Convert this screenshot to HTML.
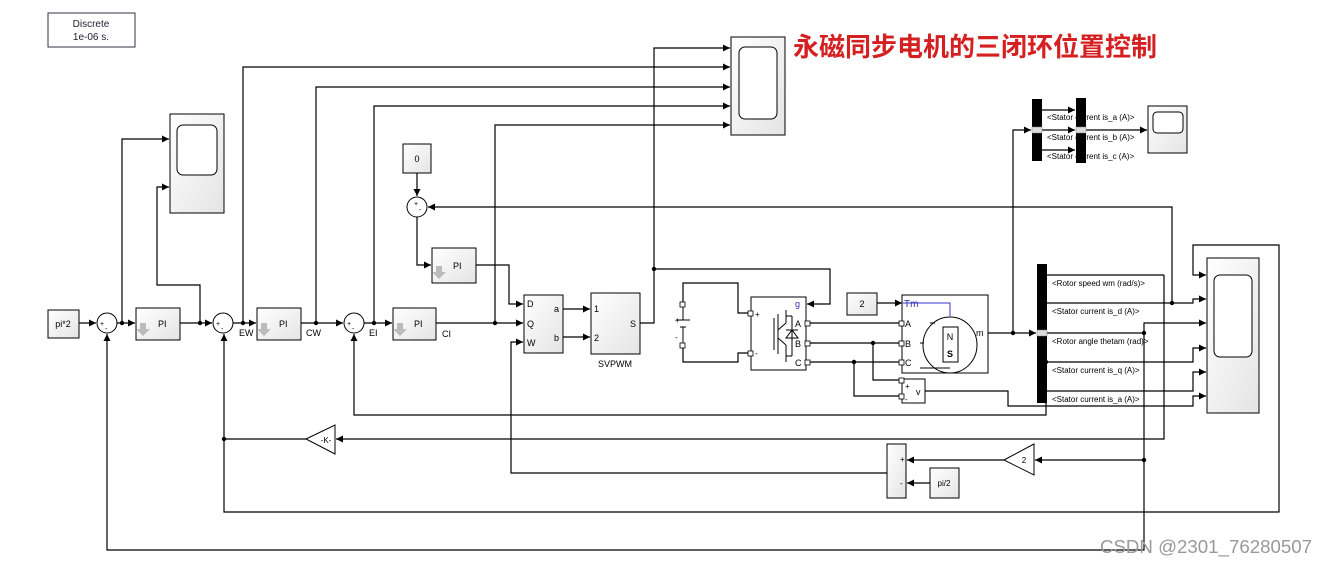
<!DOCTYPE html>
<html><head><meta charset="utf-8"><style>
html,body{margin:0;padding:0;background:#fff;}
svg{display:block;}
text{font-family:"Liberation Sans",sans-serif;}
</style></head><body>
<svg width="1328" height="565" viewBox="0 0 1328 565" xmlns="http://www.w3.org/2000/svg">
<defs>
<marker id="a" markerWidth="8" markerHeight="8" refX="7" refY="4" orient="auto" markerUnits="userSpaceOnUse"><path d="M0,0.5 L7,4 L0,7.5 z" fill="#000"/></marker>
<linearGradient id="g" x1="0" y1="0" x2="1" y2="1"><stop offset="0" stop-color="#fff"/><stop offset="1" stop-color="#e4e4e4"/></linearGradient>
</defs>
<g fill="none" stroke="#000" stroke-width="1.2">
<line x1="79" y1="323" x2="96" y2="323" marker-end="url(#a)"/>
<line x1="117" y1="323" x2="135" y2="323" marker-end="url(#a)"/>
<line x1="180" y1="323" x2="212" y2="323" marker-end="url(#a)"/>
<line x1="233" y1="323" x2="256" y2="323" marker-end="url(#a)"/>
<line x1="301" y1="323" x2="343" y2="323" marker-end="url(#a)"/>
<line x1="364" y1="323" x2="392" y2="323" marker-end="url(#a)"/>
<line x1="436" y1="323" x2="523" y2="323" marker-end="url(#a)"/>
<line x1="563" y1="309" x2="590" y2="309" marker-end="url(#a)"/>
<line x1="563" y1="337" x2="590" y2="337" marker-end="url(#a)"/>
<polyline points="640,323 654,323 654,48 730,48" marker-end="url(#a)"/>
<polyline points="654,269 830,269 830,304 807,304" marker-end="url(#a)"/>
<polyline points="243,323 243,67 730,67" marker-end="url(#a)"/>
<polyline points="316,323 316,87 730,87" marker-end="url(#a)"/>
<polyline points="374,323 374,106 730,106" marker-end="url(#a)"/>
<polyline points="495,323 495,125 730,125" marker-end="url(#a)"/>
<polyline points="122,323 122,139 169,139" marker-end="url(#a)"/>
<polyline points="200,323 200,285 157,285 157,187 169,187" marker-end="url(#a)"/>
<line x1="417" y1="173" x2="417" y2="196" marker-end="url(#a)"/>
<polyline points="417,217 417,265 431,265" marker-end="url(#a)"/>
<polyline points="476,265 509,265 509,304 523,304" marker-end="url(#a)"/>
<polyline points="1172,303 1172,207 428,207" marker-end="url(#a)"/>
<polyline points="887,473 511,473 511,342 523,342" marker-end="url(#a)"/>
<polyline points="1144,333 1144,550 107,550 107,334" marker-end="url(#a)"/>
<polyline points="1164,275 1164,439 336,439" marker-end="url(#a)"/>
<polyline points="306,439 224,439 224,334" marker-end="url(#a)"/>
<polyline points="224,439 224,512 1279,512 1279,245 1193,245 1193,275 1206,275" marker-end="url(#a)"/>
<polyline points="1046,362 1046,415 354,415 354,334" marker-end="url(#a)"/>
<line x1="1144" y1="460" x2="1035" y2="460" marker-end="url(#a)"/>
<line x1="1004" y1="460" x2="907" y2="460" marker-end="url(#a)"/>
<line x1="930" y1="483" x2="907" y2="483" marker-end="url(#a)"/>
<polyline points="683,305 683,283 738,283 738,313 751,313"/>
<polyline points="683,345 683,362 738,362 738,353 751,353"/>
<line x1="806" y1="323" x2="902" y2="323"/>
<line x1="806" y1="343" x2="902" y2="343"/>
<line x1="806" y1="362" x2="902" y2="362"/>
<polyline points="873,343 873,380 902,380"/>
<polyline points="854,362 854,396 902,396"/>
<line x1="877" y1="303" x2="902" y2="303" marker-end="url(#a)"/>
<line x1="988" y1="333" x2="1036" y2="333" marker-end="url(#a)"/>
<polyline points="1013,333 1013,130 1031,130" marker-end="url(#a)"/>
<line x1="1042" y1="110" x2="1075" y2="110" marker-end="url(#a)"/>
<line x1="1042" y1="130" x2="1075" y2="130" marker-end="url(#a)"/>
<line x1="1042" y1="150" x2="1075" y2="150" marker-end="url(#a)"/>
<line x1="1086" y1="130" x2="1147" y2="130" marker-end="url(#a)"/>
<line x1="1047" y1="275" x2="1164" y2="275"/>
<polyline points="1047,303 1193,303 1193,299 1206,299" marker-end="url(#a)"/>
<polyline points="1047,333 1144,333 1144,323 1206,323" marker-end="url(#a)"/>
<polyline points="1047,362 1193,362 1193,348 1206,348" marker-end="url(#a)"/>
<polyline points="1047,391 1193,391 1193,372 1206,372" marker-end="url(#a)"/>
<polyline points="925,391 1008,391 1008,406 1193,406 1193,396 1206,396" marker-end="url(#a)"/>
</g>
<g fill="#000">
<circle cx="122" cy="323" r="2.2"/><circle cx="200" cy="323" r="2.2"/><circle cx="243" cy="323" r="2.2"/>
<circle cx="316" cy="323" r="2.2"/><circle cx="374" cy="323" r="2.2"/><circle cx="495" cy="323" r="2.2"/>
<circle cx="654" cy="269" r="2.2"/><circle cx="873" cy="343" r="2.2"/><circle cx="854" cy="362" r="2.2"/>
<circle cx="1013" cy="333" r="2.2"/><circle cx="1144" cy="333" r="2.2"/><circle cx="1172" cy="303" r="2.2"/>
<circle cx="1046" cy="362" r="2.2"/><circle cx="1144" cy="460" r="2.2"/><circle cx="224" cy="439" r="2.2"/>
</g>
<g stroke="#000" stroke-width="1" fill="url(#g)">
<rect x="48" y="13" width="87" height="34" fill="#fff" stroke="#334"/>
<rect x="48" y="310" width="31" height="28"/>
<rect x="136" y="308" width="44" height="32"/>
<rect x="257" y="308" width="44" height="32"/>
<rect x="393" y="308" width="43" height="32"/>
<rect x="432" y="248" width="44" height="35"/>
<rect x="403" y="144" width="28" height="29"/>
<rect x="524" y="295" width="39" height="58"/>
<rect x="591" y="293" width="49" height="61"/>
<rect x="731" y="37" width="54" height="98"/>
<rect x="170" y="114" width="54" height="99"/>
<rect x="751" y="297" width="55" height="73" fill="#fff"/>
<rect x="847" y="293" width="30" height="22"/>
<rect x="902" y="295" width="86" height="78" fill="#fff"/>
<rect x="902" y="379" width="23" height="24" fill="#fff"/>
<rect x="1207" y="258" width="52" height="155"/>
<rect x="1148" y="106" width="39" height="47"/>
<rect x="887" y="444" width="19" height="54"/>
<rect x="930" y="468" width="29" height="30"/>
</g>
<g fill="#fff" stroke="#000" stroke-width="1">
<circle cx="107" cy="323" r="10"/><circle cx="223" cy="323" r="10"/><circle cx="354" cy="323" r="10"/><circle cx="417" cy="207" r="10"/>
<rect x="739" y="47" width="38" height="72" rx="6"/>
<rect x="177" y="125" width="40" height="50" rx="6"/>
<rect x="1214" y="275" width="38" height="82" rx="6"/>
<rect x="1153" y="112" width="30" height="21" rx="4"/>
<polygon points="306,439 335,425 335,454"/>
<polygon points="1004,460 1034,444 1034,475"/>
<ellipse cx="950" cy="345" rx="27" ry="28"/>
<rect x="943" y="327" width="15" height="35"/>
</g>
<g fill="#000">
<rect x="1037" y="264" width="10" height="139"/>
<rect x="1032" y="99" width="10" height="62"/>
<rect x="1076" y="98" width="10" height="65"/>
</g>
<g fill="#ddd" stroke="#888" stroke-width="0.5">
<rect x="1037" y="330" width="10" height="6"/><rect x="1032" y="127" width="10" height="6"/><rect x="1076" y="127" width="10" height="6"/>
</g>
<g fill="#bbb">
<path d="M140,323 h6 v6 h4 l-7,7 l-7,-7 h4 z"/>
<path d="M261,323 h6 v6 h4 l-7,7 l-7,-7 h4 z"/>
<path d="M397,323 h6 v6 h4 l-7,7 l-7,-7 h4 z"/>
<path d="M436,266 h6 v6 h4 l-7,7 l-7,-7 h4 z"/>
</g>
<g stroke="#000" stroke-width="1" fill="none">
<line x1="676" y1="320" x2="690" y2="320"/><line x1="680" y1="327" x2="686" y2="327"/>
<line x1="683" y1="305" x2="683" y2="320"/><line x1="683" y1="327" x2="683" y2="345"/>
<line x1="774" y1="318" x2="774" y2="350"/><line x1="778" y1="314" x2="778" y2="354"/>
<line x1="778" y1="330" x2="786" y2="323"/><line x1="786" y1="323" x2="786" y2="310"/>
<line x1="778" y1="338" x2="786" y2="345"/><line x1="786" y1="345" x2="786" y2="362"/>
<line x1="786" y1="316" x2="792" y2="316"/><line x1="792" y1="316" x2="792" y2="356"/><line x1="786" y1="356" x2="792" y2="356"/>
<polygon points="786,338 798,338 792,330"/><line x1="786" y1="330" x2="798" y2="330"/>
<polyline points="903,303 950,303 950,316" stroke="#33c"/>
<line x1="930" y1="323" x2="935" y2="323"/><line x1="920" y1="343" x2="924" y2="343"/><line x1="920" y1="368" x2="950" y2="368"/>
</g>
<g fill="#fff" stroke="#000" stroke-width="0.8">
<rect x="680" y="302" width="5" height="5"/><rect x="680" y="343" width="5" height="5"/>
<rect x="748" y="311" width="5" height="5"/><rect x="748" y="351" width="5" height="5"/>
<rect x="805" y="321" width="5" height="5"/><rect x="805" y="341" width="5" height="5"/><rect x="805" y="360" width="5" height="5"/>
<rect x="899" y="321" width="5" height="5"/><rect x="899" y="341" width="5" height="5"/><rect x="899" y="360" width="5" height="5"/>
<rect x="899" y="378" width="5" height="5"/><rect x="899" y="394" width="5" height="5"/>
</g>
<g font-size="9" fill="#000">
<text x="91" y="27" text-anchor="middle" fill="#223" font-size="10">Discrete</text>
<text x="91" y="40" text-anchor="middle" fill="#223" font-size="10">1e-06 s.</text>
<text x="63" y="327" text-anchor="middle">pi*2</text>
<text x="158" y="327">PI</text><text x="279" y="327">PI</text><text x="414" y="327">PI</text><text x="453" y="269">PI</text>
<text x="417" y="162" text-anchor="middle">0</text>
<text x="239" y="336">EW</text><text x="306" y="336">CW</text><text x="369" y="336">EI</text><text x="442" y="337">CI</text>
<text x="100" y="326" font-size="7">+</text><text x="105" y="331" font-size="7">-</text>
<text x="216" y="326" font-size="7">+</text><text x="221" y="331" font-size="7">-</text>
<text x="347" y="326" font-size="7">+</text><text x="352" y="331" font-size="7">-</text>
<text x="414" y="206" font-size="7">+</text><text x="419" y="212" font-size="7">-</text>
<text x="527" y="307">D</text><text x="527" y="327">Q</text><text x="527" y="346">W</text>
<text x="554" y="312">a</text><text x="554" y="341">b</text>
<text x="594" y="312">1</text><text x="594" y="341">2</text><text x="630" y="327">S</text>
<text x="615" y="367" text-anchor="middle">SVPWM</text>
<text x="675" y="323" font-size="8">+</text><text x="675" y="340" font-size="8">-</text>
<text x="755" y="317" font-size="8">+</text><text x="755" y="356" font-size="8">-</text>
<text x="795" y="307" fill="#33a">g</text><text x="795" y="327">A</text><text x="795" y="347">B</text><text x="795" y="366">C</text>
<text x="862" y="307" text-anchor="middle">2</text>
<text x="904" y="307" fill="#33a" font-size="10">Tm</text>
<text x="905" y="327">A</text><text x="905" y="347">B</text><text x="905" y="366">C</text>
<text x="976" y="336">m</text>
<text x="950" y="340" text-anchor="middle">N</text>
<text x="950" y="357" text-anchor="middle" font-weight="bold">S</text>
<text x="905" y="389" font-size="8">+</text><text x="905" y="402" font-size="8">-</text><text x="916" y="395">v</text>
<text x="326" y="443" text-anchor="middle" font-size="8">-K-</text>
<text x="1024" y="463" text-anchor="middle" font-size="8">2</text>
<text x="944" y="486" text-anchor="middle" font-size="8">pi/2</text>
<text x="900" y="462" font-size="8">+</text><text x="900" y="486" font-size="8">-</text>
</g>
<g font-size="8" fill="#000">
<text x="1052" y="286">&lt;Rotor speed wm (rad/s)&gt;</text>
<text x="1052" y="314">&lt;Stator current is_d (A)&gt;</text>
<text x="1052" y="344">&lt;Rotor angle thetam (rad)&gt;</text>
<text x="1052" y="373">&lt;Stator current is_q (A)&gt;</text>
<text x="1052" y="402">&lt;Stator current is_a (A)&gt;</text>
<text x="1047" y="120">&lt;Stator current is_a (A)&gt;</text>
<text x="1047" y="140">&lt;Stator current is_b (A)&gt;</text>
<text x="1047" y="159">&lt;Stator current is_c (A)&gt;</text>
</g>
<text x="793" y="56" font-size="26" font-weight="bold" fill="#d42020" style="font-family:'Liberation Sans','Noto Sans CJK SC',sans-serif">永磁同步电机的三闭环位置控制</text>
<text x="1100" y="553" font-size="18" fill="#999" textLength="212" lengthAdjust="spacingAndGlyphs" style="font-family:'Liberation Sans','Noto Sans CJK SC',sans-serif">CSDN @2301_76280507</text>
</svg>
</body></html>
